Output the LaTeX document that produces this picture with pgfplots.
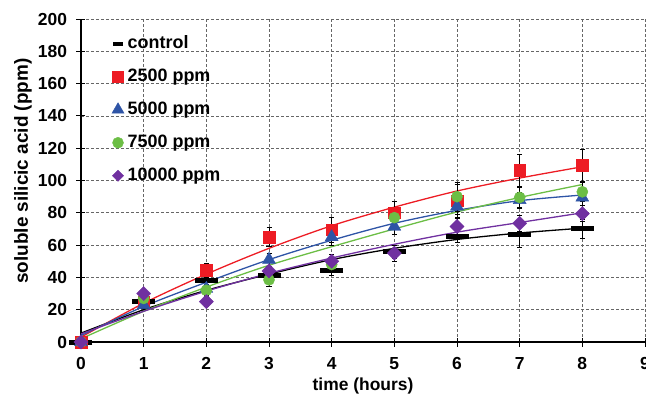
\documentclass[border=0pt]{standalone}
\usepackage{pgfplots}
\pgfplotsset{compat=1.18}
\usepackage{pgfplotstable}
\usepackage{fontspec}
\setmainfont{Liberation Sans}
\definecolor{cred}{RGB}{237,28,36}
\definecolor{cblue}{RGB}{46,84,166}
\definecolor{cgreen}{RGB}{108,190,69}
\definecolor{cpurple}{RGB}{112,48,160}

% measured points: x  y  error
\pgfplotstableread{
x y e
0 0 0
1 25 1
2 38 2
3 41 2
4 44 3
5 56 4
6 65.5 4
7 66.5 8
8 70 6
}\ctrl
\pgfplotstableread{
x y e
0 0 0
1 25 2
2 44.5 4.5
3 65 6
4 69.5 7.5
5 80 7
6 87.5 10
7 106.5 10
8 109.5 10
}\redd
\pgfplotstableread{
x y e
0 0 0
1 23 2
2 33 3
3 51 4
4 65 5
5 71.5 5
6 84 5
7 88 5
8 89.5 5
}\blue
\pgfplotstableread{
x y e
0 0 0
1 27 2
2 32 3
3 38.5 4
4 48 4
5 77 5
6 90 9
7 89.5 6
8 93 6
}\green
\pgfplotstableread{
x y e
0 0 0
1 30 2
2 25 3
3 44 3
4 50 4
5 55 5
6 71.5 5
7 73.5 5
8 79.5 5
}\purple

% fitted trend lines
\pgfplotstableread{
x ctrl red blue green purple
0 5.5 3 4 2 5
1 20 24 22 19 19
2 32 42 37 34 31.5
3 42 58 51 47.5 42.5
4 51 72 63 59 52
5 58 83.5 73.5 70 60.5
6 63.5 93.5 81.5 80.5 68
7 67.5 101.5 87.5 89.5 74
8 70.5 108.5 91 97.5 80
}\fits

\begin{document}
\begin{tikzpicture}
\begin{axis}[
  scale only axis, width=564bp, height=323bp,
  xmin=0, xmax=9, ymin=0, ymax=200,
  xtick={0,1,...,9}, ytick={0,20,...,200},
  axis x line*=bottom, axis y line*=left,
  axis line style={line width=1.6bp, -},
  grid=major,
  grid style={gray!80!black, line width=0.6bp, dash pattern=on 3bp off 2bp},
  tick align=center, major tick length=9bp,
  tick style={black, line width=0.8bp},
  /pgf/number format/assume math mode=true,
  ticklabel style={font=\fontsize{17.5}{17.5}\selectfont\bfseries},
  yticklabel style={xshift=-6bp},
  xticklabel style={yshift=-7bp},
  xlabel={time (hours)},
  ylabel={soluble silicic acid (ppm)},
  xlabel style={font=\fontsize{17.5}{17.5}\selectfont\bfseries, yshift=-2bp},
  ylabel style={font=\fontsize{19}{19}\selectfont\bfseries, inner sep=0pt,
    at={(axis description cs:-0.087,0.529)}, anchor=south},
  legend style={at={(rel axis cs:0.049,0.955)}, anchor=north west, draw=none, fill=none,
    font=\fontsize{18}{18}\selectfont\bfseries, row sep=17bp,
    nodes={inner sep=0pt, inner xsep=3.5bp, text height=12.5bp, text depth=3.5bp}},
  legend cell align=left,
  legend image code/.code={\draw[#1] plot coordinates {(6bp,0bp)}; \path (0bp,0bp) (12bp,0bp);},
  error bars/y dir=both, error bars/y explicit,
  error bars/error bar style={black, line width=0.6bp},
  error bars/error mark options={rotate=90, mark size=2.5bp, black, line width=0.6bp},
]
\addlegendimage{only marks, mark=-, mark size=5bp, mark options={line width=4bp, black}}
\addlegendentry{control}
\addlegendimage{only marks, mark=square*, mark size=5.5bp, mark options={cred, draw=cred}}
\addlegendentry{2500 ppm}
\addlegendimage{only marks, mark=triangle*, mark size=7bp, mark options={cblue, draw=cblue}}
\addlegendentry{5000 ppm}
\addlegendimage{only marks, mark=*, mark size=5.5bp, mark options={cgreen, draw=cgreen}}
\addlegendentry{7500 ppm}
\addlegendimage{only marks, mark=square*, mark size=4bp, mark options={rotate=45, cpurple, draw=cpurple}}
\addlegendentry{10000 ppm}

% trend lines
\addplot[forget plot, no marks, smooth, black, line width=1.3bp] table[x=x, y=ctrl] {\fits};
\addplot[forget plot, no marks, smooth, cred, line width=1.3bp] table[x=x, y=red] {\fits};
\addplot[forget plot, no marks, smooth, cblue, line width=1.3bp] table[x=x, y=blue] {\fits};
\addplot[forget plot, no marks, smooth, cgreen, line width=1.3bp] table[x=x, y=green] {\fits};
\addplot[forget plot, no marks, smooth, cpurple, line width=1.3bp] table[x=x, y=purple] {\fits};

% data points
\addplot[forget plot, only marks, mark=-, mark size=11.5bp, mark options={line width=5bp, black}]
  table[x=x, y=y, y error=e] {\ctrl};
\addplot[forget plot, only marks, mark=square*, mark size=5.8bp, mark options={cred, draw=cred}]
  table[x=x, y=y, y error=e] {\redd};
\addplot[forget plot, only marks, mark=triangle*, mark size=7.5bp, mark options={cblue, draw=cblue}]
  table[x=x, y=y, y error=e] {\blue};
\addplot[forget plot, only marks, mark=*, mark size=5.6bp, mark options={cgreen, draw=cgreen}]
  table[x=x, y=y, y error=e] {\green};
\addplot[forget plot, only marks, mark=square*, mark size=5bp, mark options={rotate=45, cpurple, draw=cpurple}]
  table[x=x, y=y, y error=e] {\purple};
\end{axis}
\pgfresetboundingbox
\path[use as bounding box] (-81bp,-56bp) rectangle (565bp,342bp);
\end{tikzpicture}
\end{document}
